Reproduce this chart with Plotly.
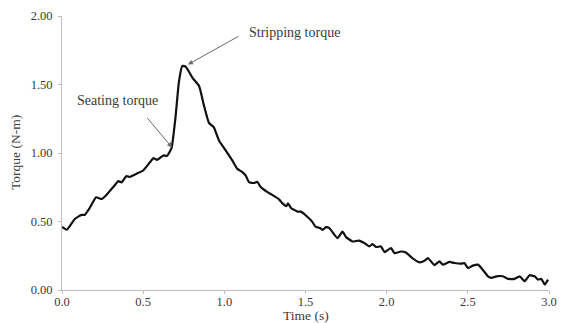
import plotly.graph_objects as go

time_s = [0.00, 0.03, 0.08, 0.12, 0.14, 0.17, 0.21, 0.245, 0.275, 0.317, 0.347, 0.367, 0.397, 0.417,
          0.462, 0.502, 0.543, 0.564, 0.586, 0.626, 0.646, 0.67, 0.676, 0.70, 0.72, 0.741, 0.762,
          0.805, 0.845, 0.875, 0.905, 0.934, 0.967, 1.009, 1.05, 1.08, 1.111, 1.132, 1.153, 1.183,
          1.203, 1.223, 1.263, 1.292, 1.337, 1.358, 1.382, 1.392, 1.412, 1.432, 1.452, 1.472, 1.511,
          1.541, 1.561, 1.591, 1.606, 1.626, 1.647, 1.697, 1.728, 1.75, 1.79, 1.83, 1.863, 1.893,
          1.913, 1.934, 1.965, 1.986, 2.027, 2.048, 2.088, 2.118, 2.158, 2.202, 2.233, 2.254, 2.294,
          2.325, 2.346, 2.387, 2.417, 2.46, 2.479, 2.50, 2.531, 2.562, 2.583, 2.624, 2.645, 2.676,
          2.715, 2.747, 2.788, 2.819, 2.85, 2.88, 2.911, 2.932, 2.953, 2.974, 2.994]
torque = [0.46, 0.44, 0.52, 0.548, 0.548, 0.597, 0.677, 0.664, 0.696, 0.753, 0.795, 0.785, 0.832, 0.825,
          0.85, 0.874, 0.934, 0.963, 0.95, 0.983, 0.978, 1.023, 1.042, 1.27, 1.517, 1.635, 1.63,
          1.547, 1.488, 1.344, 1.22, 1.19, 1.092, 1.018, 0.944, 0.884, 0.861, 0.835, 0.785, 0.781,
          0.79, 0.753, 0.716, 0.696, 0.662, 0.632, 0.612, 0.632, 0.597, 0.584, 0.572, 0.572, 0.535,
          0.499, 0.463, 0.451, 0.439, 0.459, 0.451, 0.379, 0.426, 0.386, 0.354, 0.361, 0.342, 0.318,
          0.335, 0.314, 0.318, 0.277, 0.306, 0.269, 0.281, 0.274, 0.233, 0.202, 0.214, 0.233, 0.182,
          0.209, 0.185, 0.205, 0.197, 0.192, 0.197, 0.161, 0.178, 0.185, 0.161, 0.10, 0.089, 0.10,
          0.10, 0.081, 0.081, 0.10, 0.064, 0.108, 0.10, 0.076, 0.081, 0.04, 0.076]

x_ticks = [0.0, 0.5, 1.0, 1.5, 2.0, 2.5, 3.0]
x_tick_labels = ["0.0", "0.5", "1.0", "1.5", "2.0", "2.5", "3.0"]
y_ticks = [0.0, 0.5, 1.0, 1.5, 2.0]
y_tick_labels = ["0.00", "0.50", "1.00", "1.50", "2.00"]

FONT = "Liberation Serif, Times New Roman, serif"
AX = "#bfbfbf"
TXT = "#3a3a3a"

fig = go.Figure()
fig.add_trace(go.Scatter(x=time_s, y=torque, mode="lines",
                         line=dict(color="#111111", width=2.2, shape="spline", smoothing=0.4),
                         hoverinfo="skip", showlegend=False))

fig.update_layout(
    width=568, height=323,
    margin=dict(l=54, r=27, t=8, b=41),
    paper_bgcolor="white", plot_bgcolor="white",
    font=dict(family=FONT, size=13, color=TXT),
    xaxis=dict(range=[0, 3.0], tickvals=x_ticks, ticktext=x_tick_labels, automargin=False,
               showgrid=False, zeroline=False, showline=True, linecolor=AX, linewidth=1,
               ticks="outside", ticklen=3, tickcolor=AX, ticklabelstandoff=-3,
               tickfont=dict(size=12.5, color=TXT)),
    yaxis=dict(range=[0, 2.0], tickvals=y_ticks, ticktext=y_tick_labels, automargin=False,
               showgrid=False, zeroline=False, showline=True, linecolor=AX, linewidth=1,
               ticks="outside", ticklen=3, tickcolor=AX, ticklabelstandoff=3,
               tickfont=dict(size=12.5, color=TXT)),
)

# axis titles
fig.add_annotation(x=0.5, y=0, xref="paper", yref="paper", text="Time (s)", showarrow=False,
                   yanchor="middle", yshift=-25, font=dict(size=13.5, color=TXT))
fig.add_annotation(x=0, y=0.5, xref="paper", yref="paper", text="Torque (N-m)", showarrow=False,
                   textangle=-90, xanchor="center", xshift=-47, font=dict(size=13.5, color=TXT))

# callouts
fig.add_annotation(x=0.776, y=1.646, xref="x", yref="y", text="", showarrow=True,
                   ax=52, ay=-29, arrowhead=2, arrowsize=1, arrowwidth=1, arrowcolor="#6a6a6a")
fig.add_annotation(x=0.678, y=1.04, xref="x", yref="y", text="", showarrow=True,
                   ax=-26, ay=-31, arrowhead=2, arrowsize=1, arrowwidth=1, arrowcolor="#6a6a6a")
fig.add_annotation(x=1.43, y=1.88, xref="x", yref="y", text="Stripping torque", showarrow=False,
                   font=dict(size=14, color=TXT))
fig.add_annotation(x=0.339, y=1.383, xref="x", yref="y", text="Seating torque", showarrow=False,
                   font=dict(size=14, color=TXT))

fig.write_html("out.html")
